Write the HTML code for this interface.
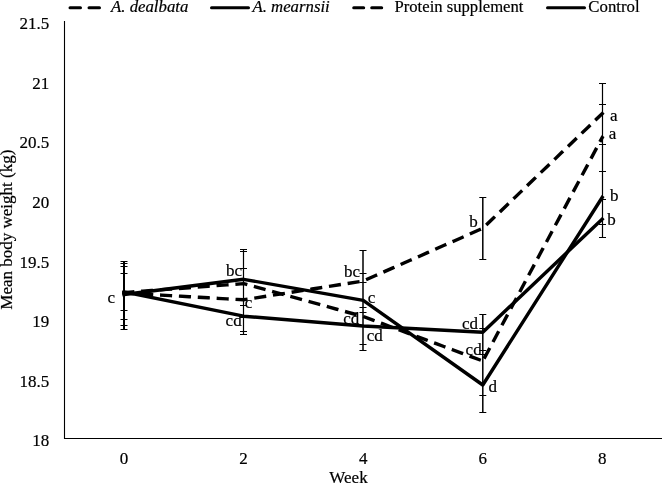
<!DOCTYPE html>
<html><head><meta charset="utf-8"><style>
html,body{margin:0;padding:0;background:#fff;}
svg{display:block;will-change:transform;}
text{font-family:"Liberation Serif",serif;fill:#000;stroke:#000;stroke-width:0.2px;}
</style></head><body>
<svg width="662" height="484" viewBox="0 0 662 484">
<rect width="662" height="484" fill="#fff"/>
<path d="M64.5 21V439M64 438.5H662" stroke="#000" stroke-width="1.1" fill="none"/>
<text x="49.3" y="28.9" font-size="17" text-anchor="end">21.5</text>
<text x="49.3" y="88.5" font-size="17" text-anchor="end">21</text>
<text x="49.3" y="148.2" font-size="17" text-anchor="end">20.5</text>
<text x="49.3" y="207.8" font-size="17" text-anchor="end">20</text>
<text x="49.3" y="267.5" font-size="17" text-anchor="end">19.5</text>
<text x="49.3" y="327.1" font-size="17" text-anchor="end">19</text>
<text x="49.3" y="386.7" font-size="17" text-anchor="end">18.5</text>
<text x="49.3" y="446.4" font-size="17" text-anchor="end">18</text>
<text x="124.0" y="463.6" font-size="17" text-anchor="middle">0</text>
<text x="243.6" y="463.6" font-size="17" text-anchor="middle">2</text>
<text x="363.2" y="463.6" font-size="17" text-anchor="middle">4</text>
<text x="482.8" y="463.6" font-size="17" text-anchor="middle">6</text>
<text x="602.2" y="463.6" font-size="17" text-anchor="middle">8</text>
<text x="348.5" y="482.7" font-size="17" text-anchor="middle">Week</text>
<text transform="translate(12.3,229.7) rotate(-90)" font-size="17" text-anchor="middle">Mean body weight (kg)</text>
<path d="M124.0 261.5V325.0M124.0 263.0V329.0M124.0 266.0V319.5M124.0 273.0V310.5" stroke="#000" stroke-width="2" fill="none"/>
<path d="M120.5 261.5H127.5M120.5 325.5H127.5M120.5 263.5H127.5M120.5 329.5H127.5M120.5 266.5H127.5M120.5 319.5H127.5M120.5 273.5H127.5M120.5 310.5H127.5" stroke="#000" stroke-width="1.1" fill="none"/>
<path d="M243.5 251.6V305.3M243.5 249.3V317.0M243.5 268.8V331.2M243.5 299.6V334.8" stroke="#000" stroke-width="1.2" fill="none"/>
<path d="M240.0 251.5H247.0M240.0 305.5H247.0M240.0 249.5H247.0M240.0 317.5H247.0M240.0 268.5H247.0M240.0 331.5H247.0M240.0 299.5H247.0M240.0 334.5H247.0" stroke="#000" stroke-width="1.1" fill="none"/>
<path d="M363.0 250.0V312.1M363.0 273.0V325.8M363.0 282.6V350.2M363.0 307.4V344.6" stroke="#000" stroke-width="1.5" fill="none"/>
<path d="M359.5 250.5H366.5M359.5 312.5H366.5M359.5 273.5H366.5M359.5 325.5H366.5M359.5 282.5H366.5M359.5 350.5H366.5M359.5 307.5H366.5M359.5 344.5H366.5" stroke="#000" stroke-width="1.1" fill="none"/>
<path d="M482.8 197.6V259.1M482.8 314.6V350.0M482.8 328.0V395.3M482.8 354.3V412.3" stroke="#000" stroke-width="1.5" fill="none"/>
<path d="M479.3 197.5H486.3M479.3 259.5H486.3M479.3 314.5H486.3M479.3 350.5H486.3M479.3 328.5H486.3M479.3 395.5H486.3M479.3 354.5H486.3M479.3 412.5H486.3" stroke="#000" stroke-width="1.1" fill="none"/>
<path d="M602.5 83.0V144.8M602.5 104.6V171.2M602.5 171.2V224.3M602.5 199.8V237.2" stroke="#000" stroke-width="1.2" fill="none"/>
<path d="M599.0 83.5H606.0M599.0 144.5H606.0M599.0 104.5H606.0M599.0 171.5H606.0M599.0 171.5H606.0M599.0 224.5H606.0M599.0 199.5H606.0M599.0 237.5H606.0" stroke="#000" stroke-width="1.1" fill="none"/>
<path d="M124.0 293.0 L243.6 299.8 L363.2 281.0 L482.8 228.3 L602.2 113.6" stroke="#000" stroke-width="3.4" fill="none" stroke-linejoin="round" stroke-dasharray="8.7 10.2" stroke-linecap="square"/>
<path d="M124.0 292.6 L243.6 283.6 L363.2 316.5 L482.8 361.0" stroke="#000" stroke-width="3.4" fill="none" stroke-linejoin="round" stroke-dasharray="8.7 10.2" stroke-linecap="square"/>
<path d="M482.8 361.0 L602.2 137.6" stroke="#000" stroke-width="3.4" fill="none" stroke-dasharray="8.7 10.2" stroke-dashoffset="14.49" stroke-linecap="square"/>
<path d="M124.0 294.5 L243.6 279.3 L363.2 300.3 L482.8 385.0 L602.2 197.4" stroke="#000" stroke-width="3.4" fill="none" stroke-linejoin="round" stroke-linecap="square"/>
<path d="M124.0 292.0 L243.6 316.2 L363.2 326.0 L482.8 332.2 L602.2 219.1" stroke="#000" stroke-width="3.4" fill="none" stroke-linejoin="round" stroke-linecap="square"/>
<text x="107.5" y="303.3" font-size="17">c</text>
<text x="226.1" y="276.0" font-size="17">bc</text>
<text x="244.7" y="308.0" font-size="17">c</text>
<text x="225.6" y="326.0" font-size="17">cd</text>
<text x="344.0" y="277.0" font-size="17">bc</text>
<text x="367.8" y="302.6" font-size="17">c</text>
<text x="343.2" y="323.5" font-size="17">cd</text>
<text x="366.7" y="340.9" font-size="17">cd</text>
<text x="469.2" y="226.8" font-size="17">b</text>
<text x="462.0" y="328.8" font-size="17">cd</text>
<text x="465.6" y="354.7" font-size="17">cd</text>
<text x="488.5" y="391.6" font-size="17">d</text>
<text x="609.9" y="120.8" font-size="17">a</text>
<text x="608.8" y="139.1" font-size="17">a</text>
<text x="609.9" y="200.8" font-size="17">b</text>
<text x="607.3" y="224.8" font-size="17">b</text>
<path d="M70 7.8H100" stroke="#000" stroke-width="3" stroke-dasharray="10.5 8.5" stroke-linecap="round"/>
<text x="111" y="11.5" font-size="16.8" font-style="italic">A. dealbata</text>
<path d="M211.5 7.8H248.5" stroke="#000" stroke-width="3" stroke-linecap="round"/>
<text x="252.4" y="11.5" font-size="16.8" font-style="italic">A. mearnsii</text>
<path d="M353.7 7.8H383.7" stroke="#000" stroke-width="3" stroke-dasharray="10 8" stroke-linecap="round"/>
<text x="394.5" y="11.5" font-size="16.65">Protein supplement</text>
<path d="M547.5 7.8H584.5" stroke="#000" stroke-width="3" stroke-linecap="round"/>
<text x="588.3" y="11.5" font-size="16.8">Control</text>
</svg>
</body></html>
